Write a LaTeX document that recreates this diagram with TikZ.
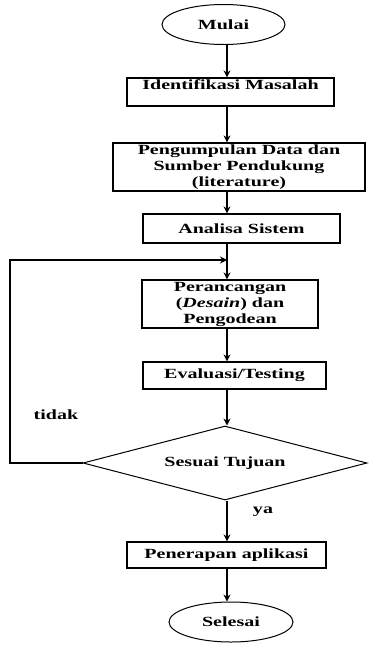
\documentclass[tikz,border=0pt]{standalone}
\usepackage{fontspec}
\setmainfont{Liberation Serif}[FakeStretch=1.43]
\usetikzlibrary{shapes.geometric,arrows.meta}
\tikzset{
  every node/.style={font=\fontsize{14}{16}\selectfont\bfseries, inner sep=0pt},
  boxnode/.style={draw, rectangle, line width=1.2pt, align=center},
  termnode/.style={draw, ellipse, line width=1pt},
  decnode/.style={draw, diamond, line width=1pt, shape aspect=3.85},
  flow/.style={line width=1.2pt, -{Stealth[length=7pt,width=7pt]}},
  lbl/.style={font=\fontsize{14}{16}\selectfont\bfseries}
}
\begin{document}
\begin{tikzpicture}[x=1pt,y=-1pt]
\useasboundingbox (0,0) rectangle (368,645);
\coordinate (ax) at (227,0);
\node[termnode, minimum width=123pt, minimum height=40pt] (mulai) at (223.5,24.5) {Mulai};
\node[boxnode, minimum width=207pt, minimum height=28pt,
  label={[name=identtxt, anchor=north, yshift=-2pt]north:Identifikasi Masalah}] (ident) at (230.5,92) {};
\node[boxnode, minimum width=252pt, minimum height=48pt] (peng) at (239,167) {Pengumpulan Data dan\\Sumber Pendukung\\(literature)};
\node[boxnode, minimum width=197pt, minimum height=29pt] (anal) at (241.5,228.5) {Analisa Sistem};
\node[boxnode, minimum width=176pt, minimum height=48pt] (peran) at (230,304) {Perancangan\\(\textit{Desain}) dan\\Pengodean};
\node[boxnode, minimum width=183pt, minimum height=27pt] (eval) at (234.5,375.5) {Evaluasi/Testing};
\node[decnode, minimum width=284pt, minimum height=74pt] (sesuai) at (225,463) {Sesuai Tujuan};
\node[boxnode, minimum width=199pt, minimum height=26pt] (pener) at (226.5,555) {Penerapan aplikasi};
\node[termnode, minimum width=124pt, minimum height=40pt] (selesai) at (231,622) {Selesai};

\coordinate (fbk) at (10,260);
\coordinate (join) at (227,260);

\draw[flow] (mulai.south -| ax) -- (ident.north -| ax);
\draw[flow] (ident.south -| ax) -- (peng.north -| ax);
\draw[flow] (peng.south -| ax) -- (anal.north -| ax);
\draw[flow] (anal.south -| ax) -- (peran.north -| ax);
\draw[flow] (peran.south -| ax) -- (eval.north -| ax);
\draw[flow] (eval.south -| ax) -- (sesuai.north -| ax);
\draw[flow] (sesuai.south -| ax) -- (pener.north -| ax);
\draw[flow] (pener.south -| ax) -- (selesai.north -| ax);
\draw[flow] (sesuai.west) -| (fbk) -- (join);

\node[lbl] (tidak) at (56,415) {tidak};
\node[lbl] (ya) at (263,512) {ya};
\end{tikzpicture}
\end{document}
